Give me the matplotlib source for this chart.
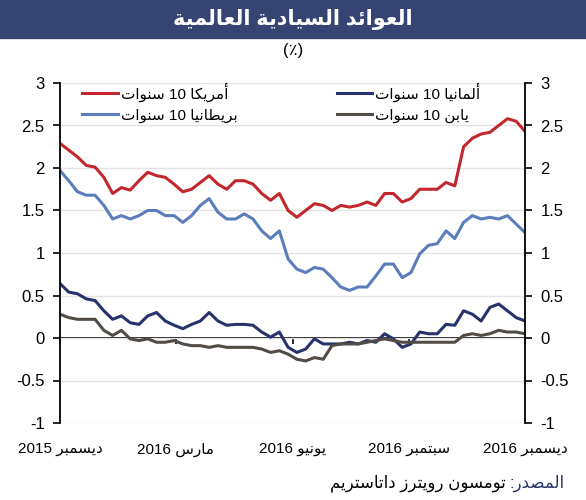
import re
import numpy as np
import pandas as pd
import matplotlib
matplotlib.use("Agg")
import matplotlib.pyplot as plt
import matplotlib.dates as mdates
from matplotlib.patches import Rectangle
from matplotlib.ticker import FuncFormatter

plt.rcParams['font.family'] = ['Liberation Sans', 'DejaVu Sans']

# weekly readings, Dec 2015 -> Dec 2016 (%)
dates = pd.date_range('2015-12-01', '2016-12-01', periods=54)

us = [2.29, 2.21, 2.13, 2.03, 2.01, 1.89, 1.70, 1.77, 1.74, 1.85,
      1.95, 1.91, 1.89, 1.81, 1.72, 1.75, 1.83, 1.91, 1.81, 1.75,
      1.85, 1.85, 1.81, 1.70, 1.62, 1.70, 1.50, 1.42, 1.50, 1.58,
      1.56, 1.50, 1.56, 1.54, 1.56, 1.60, 1.56, 1.70, 1.70, 1.60,
      1.64, 1.75, 1.75, 1.75, 1.83, 1.79, 2.25, 2.35, 2.40, 2.42,
      2.50, 2.58, 2.55, 2.43]
uk = [1.97, 1.85, 1.72, 1.68, 1.68, 1.56, 1.40, 1.44, 1.40, 1.44,
      1.50, 1.50, 1.44, 1.44, 1.36, 1.44, 1.56, 1.64, 1.48, 1.40,
      1.40, 1.46, 1.40, 1.26, 1.17, 1.26, 0.93, 0.81, 0.77, 0.83,
      0.81, 0.71, 0.60, 0.56, 0.60, 0.60, 0.73, 0.87, 0.87, 0.71,
      0.77, 0.99, 1.09, 1.11, 1.26, 1.17, 1.36, 1.44, 1.40, 1.42,
      1.40, 1.44, 1.34, 1.24]
de = [0.64, 0.54, 0.52, 0.46, 0.44, 0.32, 0.22, 0.26, 0.18, 0.16,
      0.26, 0.30, 0.20, 0.15, 0.11, 0.16, 0.20, 0.30, 0.20, 0.15,
      0.16, 0.16, 0.15, 0.07, 0.01, 0.07, -0.11, -0.17, -0.13, -0.01,
      -0.07, -0.07, -0.07, -0.05, -0.07, -0.03, -0.05, 0.05, -0.01, -0.11,
      -0.07, 0.07, 0.05, 0.05, 0.16, 0.15, 0.32, 0.28, 0.20, 0.36,
      0.40, 0.32, 0.24, 0.20]
jp = [0.28, 0.24, 0.22, 0.22, 0.22, 0.09, 0.03, 0.09, -0.01, -0.03,
      -0.01, -0.05, -0.05, -0.03, -0.07, -0.09, -0.09, -0.11, -0.09, -0.11,
      -0.11, -0.11, -0.11, -0.13, -0.17, -0.15, -0.19, -0.25, -0.27, -0.23,
      -0.25, -0.09, -0.07, -0.07, -0.07, -0.05, -0.03, -0.01, -0.03, -0.05,
      -0.05, -0.05, -0.05, -0.05, -0.05, -0.05, 0.03, 0.05, 0.03, 0.05,
      0.09, 0.07, 0.07, 0.05]

series_names = ['أمريكا 10 سنوات', 'بريطانيا 10 سنوات', 'ألمانيا 10 سنوات', 'يابن 10 سنوات']
series_colors = ['#c1272d', '#5b7dbb', '#28336b', '#524c47']

tick_dates = pd.to_datetime(['2015-12-01', '2016-03-01', '2016-06-01', '2016-09-01', '2016-12-01'])
tick_names = ['ديسمبر 2015', 'مارس 2016', 'يونيو 2016', 'سبتمبر 2016', 'ديسمبر 2016']

title = 'العوائد السيادية العالمية'
source_head = 'المصدر:'
source_body = 'تومسون رويترز داتاستريم'


# matplotlib has no arabic shaping/bidi, so do a tiny one by hand
_dual = {'ب': 0xFE8F, 'ت': 0xFE95, 'ئ': 0xFE89, 'س': 0xFEB1, 'ص': 0xFEB9,
         'ط': 0xFEC1, 'ع': 0xFEC9, 'ك': 0xFED9, 'ل': 0xFEDD, 'م': 0xFEE1,
         'ن': 0xFEE5, 'ي': 0xFEF1}
_right = {'ا': 0xFE8D, 'أ': 0xFE83, 'د': 0xFEA9, 'ر': 0xFEAD, 'ز': 0xFEAF,
          'و': 0xFEED, 'ة': 0xFE93}


def ar(text):
    out = []
    for i, ch in enumerate(text):
        if ch not in _dual and ch not in _right:
            out.append(ch)
            continue
        prev = text[i-1] if i > 0 else ''
        nxt = text[i+1] if i < len(text) - 1 else ''
        jp_ = prev in _dual
        jn = ch in _dual and (nxt in _dual or nxt in _right)
        base = _dual.get(ch, _right.get(ch))
        if jp_ and jn:
            g = base + 3
        elif jp_:
            g = base + 1
        elif jn:
            g = base + 2
        else:
            g = base
        out.append(chr(g))
    s = ''.join(out)[::-1]
    return re.sub(r'[0-9]+', lambda m: m.group(0)[::-1], s)


fig = plt.figure(figsize=(5.86, 5.0), dpi=100)
ax = fig.add_axes([60/586, 77/500, 465/586, 340/500])

lines = []
for vals, c in zip([us, uk, de, jp], series_colors):
    ln, = ax.plot(dates, vals, color=c, lw=2.2, solid_joinstyle='round')
    lines.append(ln)

ax.set_xlim(dates[0], dates[-1])
ax.set_ylim(-1, 3)
ax.set_yticks(np.arange(-1, 3.01, 0.5))
ax.yaxis.set_major_formatter(FuncFormatter(lambda v, p: '%g' % v))
ax.grid(axis='y', color='#e3e3e3', lw=1)
ax.set_axisbelow(True)
ax.tick_params(axis='y', which='both', left=True, right=True, labelleft=True,
               labelright=True, direction='out', length=5, width=1.2,
               labelsize=12, pad=6)
for s in ['top', 'bottom']:
    ax.spines[s].set_visible(False)
for s in ['left', 'right']:
    ax.spines[s].set_linewidth(1.3)

ax.set_xticks(tick_dates)
ax.set_xticklabels([ar(t) for t in tick_names], fontsize=11)
ax.tick_params(axis='x', length=0, pad=14)

# zero line with the quarterly ticks
zero = ax.secondary_xaxis(0.25)
zero.set_xticks(mdates.date2num(tick_dates))
zero.set_xticklabels([])
zero.tick_params(axis='x', direction='out', length=4, width=1.2)
zero.spines['bottom'].set_linewidth(1.3)

ax.legend(lines, [ar(t) for t in series_names], ncol=2, frameon=False,
          loc='upper left', bbox_to_anchor=(0.035, 1.02), fontsize=11,
          handlelength=2.3, handletextpad=0.2, columnspacing=6.5,
          labelspacing=0.45, borderaxespad=0)

# header bar
fig.patches.append(Rectangle((0, 462/500), 1, 38/500, transform=fig.transFigure,
                             color='#364473', zorder=0))
fig.text(0.5, 481/500, ar(title), color='white', fontsize=15, fontweight='bold',
         ha='center', va='center')
fig.text(0.5, 450/500, '(٪)', fontsize=12, ha='center', va='center')

# source line
t1 = fig.text(565/586, 17/500, ar(source_head), color='#28336b', fontsize=12,
              ha='right', va='center')
fig.canvas.draw()
bb = t1.get_window_extent()
fig.text((bb.x0 - 4)/586, 17/500, ar(source_body), fontsize=12,
         ha='right', va='center')

fig.savefig('out.png', dpi=100)
